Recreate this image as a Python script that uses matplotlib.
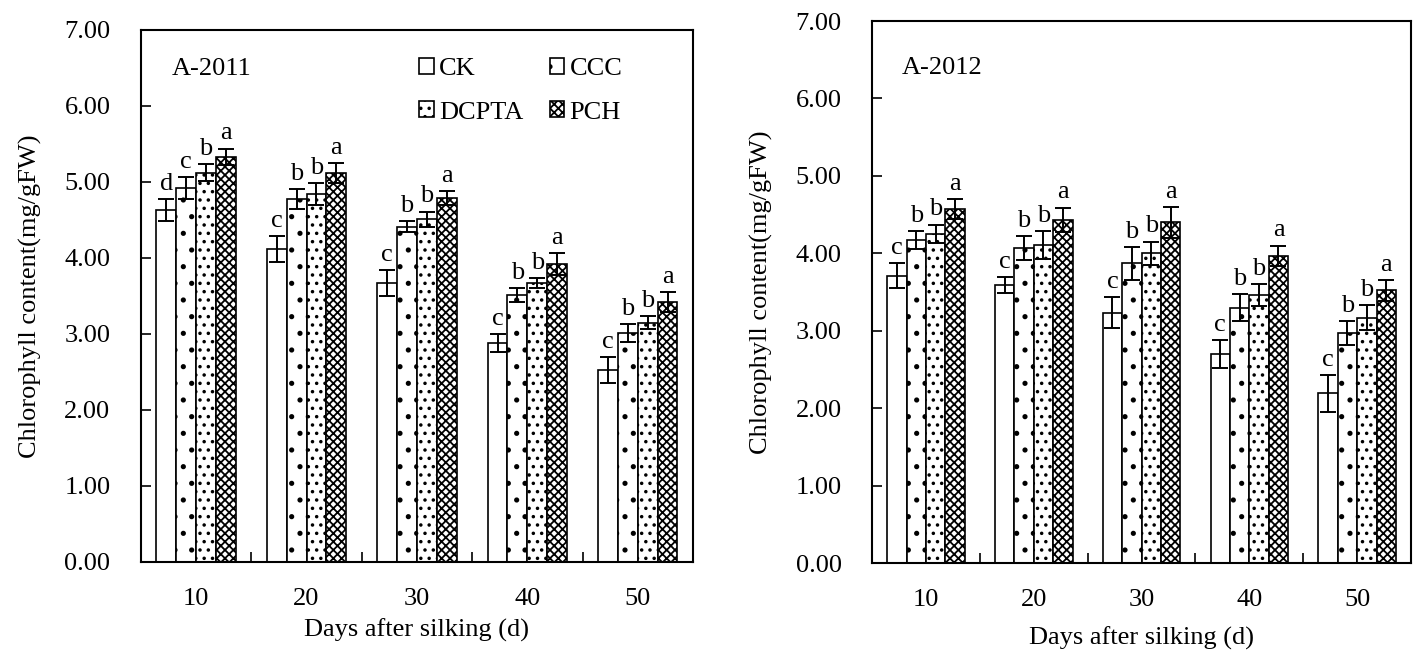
import matplotlib
matplotlib.use("Agg")
import matplotlib.pyplot as plt
import numpy as np

plt.rcParams['font.family'] = ['Liberation Serif', 'DejaVu Serif']
plt.rcParams['hatch.linewidth'] = 1.3

days = ['10', '20', '30', '40', '50']
treatments = ['CK', 'CCC', 'DCPTA', 'PCH']
hatches = ['', '.', '..', 'xxxx']

# 2011
mean_2011 = {
    'CK':    [4.63, 4.12, 3.67, 2.88, 2.53],
    'CCC':   [4.92, 4.78, 4.41, 3.51, 3.01],
    'DCPTA': [5.12, 4.84, 4.51, 3.67, 3.15],
    'PCH':   [5.33, 5.12, 4.79, 3.92, 3.42],
}
err_2011 = {
    'CK':    [0.14, 0.17, 0.17, 0.12, 0.17],
    'CCC':   [0.15, 0.13, 0.07, 0.09, 0.12],
    'DCPTA': [0.11, 0.14, 0.10, 0.07, 0.08],
    'PCH':   [0.11, 0.13, 0.09, 0.14, 0.13],
}
letters_2011 = {
    'CK':    ['d', 'c', 'c', 'c', 'c'],
    'CCC':   ['c', 'b', 'b', 'b', 'b'],
    'DCPTA': ['b', 'b', 'b', 'b', 'b'],
    'PCH':   ['a', 'a', 'a', 'a', 'a'],
}

# 2012
mean_2012 = {
    'CK':    [3.71, 3.59, 3.23, 2.70, 2.19],
    'CCC':   [4.17, 4.07, 3.87, 3.30, 2.97],
    'DCPTA': [4.25, 4.11, 4.00, 3.46, 3.17],
    'PCH':   [4.57, 4.43, 4.40, 3.97, 3.52],
}
err_2012 = {
    'CK':    [0.16, 0.10, 0.20, 0.18, 0.24],
    'CCC':   [0.12, 0.15, 0.21, 0.17, 0.15],
    'DCPTA': [0.12, 0.18, 0.15, 0.14, 0.16],
    'PCH':   [0.13, 0.16, 0.20, 0.13, 0.135],
}
letters_2012 = {
    'CK':    ['c', 'c', 'c', 'c', 'c'],
    'CCC':   ['b', 'b', 'b', 'b', 'b'],
    'DCPTA': ['b', 'b', 'b', 'b', 'b'],
    'PCH':   ['a', 'a', 'a', 'a', 'a'],
}

FS = 19
bar_w = 0.18


def draw_panel(ax, means, errs, letters, tag, tag_y, xlabelpad):
    x = np.arange(len(days))
    handles = []
    for i, t in enumerate(treatments):
        pos = x + (i - 1.5) * bar_w
        b = ax.bar(pos, means[t], bar_w, color='white', edgecolor='black',
                   linewidth=1.2, hatch=hatches[i], label=t, zorder=2)
        handles.append(b)
        ax.errorbar(pos, means[t], yerr=errs[t], fmt='none', ecolor='black',
                    elinewidth=1.4, capsize=6, capthick=1.4, zorder=3)
        for p, m, e, l in zip(pos, means[t], errs[t], letters[t]):
            ax.text(p, m + e + 0.12, l, ha='center', va='baseline', fontsize=FS)

    ax.set_xlim(-0.5, len(days) - 0.5)
    ax.set_ylim(0, 7)
    ax.set_yticks(np.arange(0, 8, 1))
    ax.set_yticklabels(['%.2f' % v for v in np.arange(0, 8, 1)], fontsize=FS)
    ax.set_xticks(x)
    ax.set_xticklabels(days, fontsize=FS)
    ax.set_xticks(x[:-1] + 0.5, minor=True)
    ax.tick_params(axis='x', which='major', length=0, pad=19)
    ax.tick_params(axis='x', which='minor', direction='in', length=7, width=1.2)
    ax.tick_params(axis='y', direction='in', length=7, width=1.2, pad=22)
    for s in ax.spines.values():
        s.set_linewidth(1.5)
    ax.set_ylabel('Chlorophyll content(mg/gFW)', fontsize=FS, labelpad=16)
    ax.set_xlabel('Days after silking (d)', fontsize=FS, labelpad=xlabelpad)
    ax.text(0.055, tag_y, tag, transform=ax.transAxes, fontsize=FS,
            ha='left', va='center')
    return handles


fig = plt.figure(figsize=(14.24, 6.54), dpi=100)
ax1 = fig.add_axes([0.0990, 0.1407, 0.3876, 0.8135])
ax2 = fig.add_axes([0.6124, 0.1391, 0.3785, 0.8287])

h = draw_panel(ax1, mean_2011, err_2011, letters_2011, 'A-2011', 0.926, 6)
draw_panel(ax2, mean_2012, err_2012, letters_2012, 'A-2012', 0.913, 11)

# row-wise order: CK CCC / DCPTA PCH
order = [0, 2, 1, 3]
ax1.legend([h[i] for i in order], [treatments[i] for i in order], ncol=2,
           frameon=False, fontsize=FS,
           loc='upper left', bbox_to_anchor=(0.485, 0.967),
           handlelength=0.55, handleheight=0.55, handletextpad=0.2,
           columnspacing=1.0, labelspacing=0.8, borderaxespad=0)

fig.savefig('out.png', dpi=100)
